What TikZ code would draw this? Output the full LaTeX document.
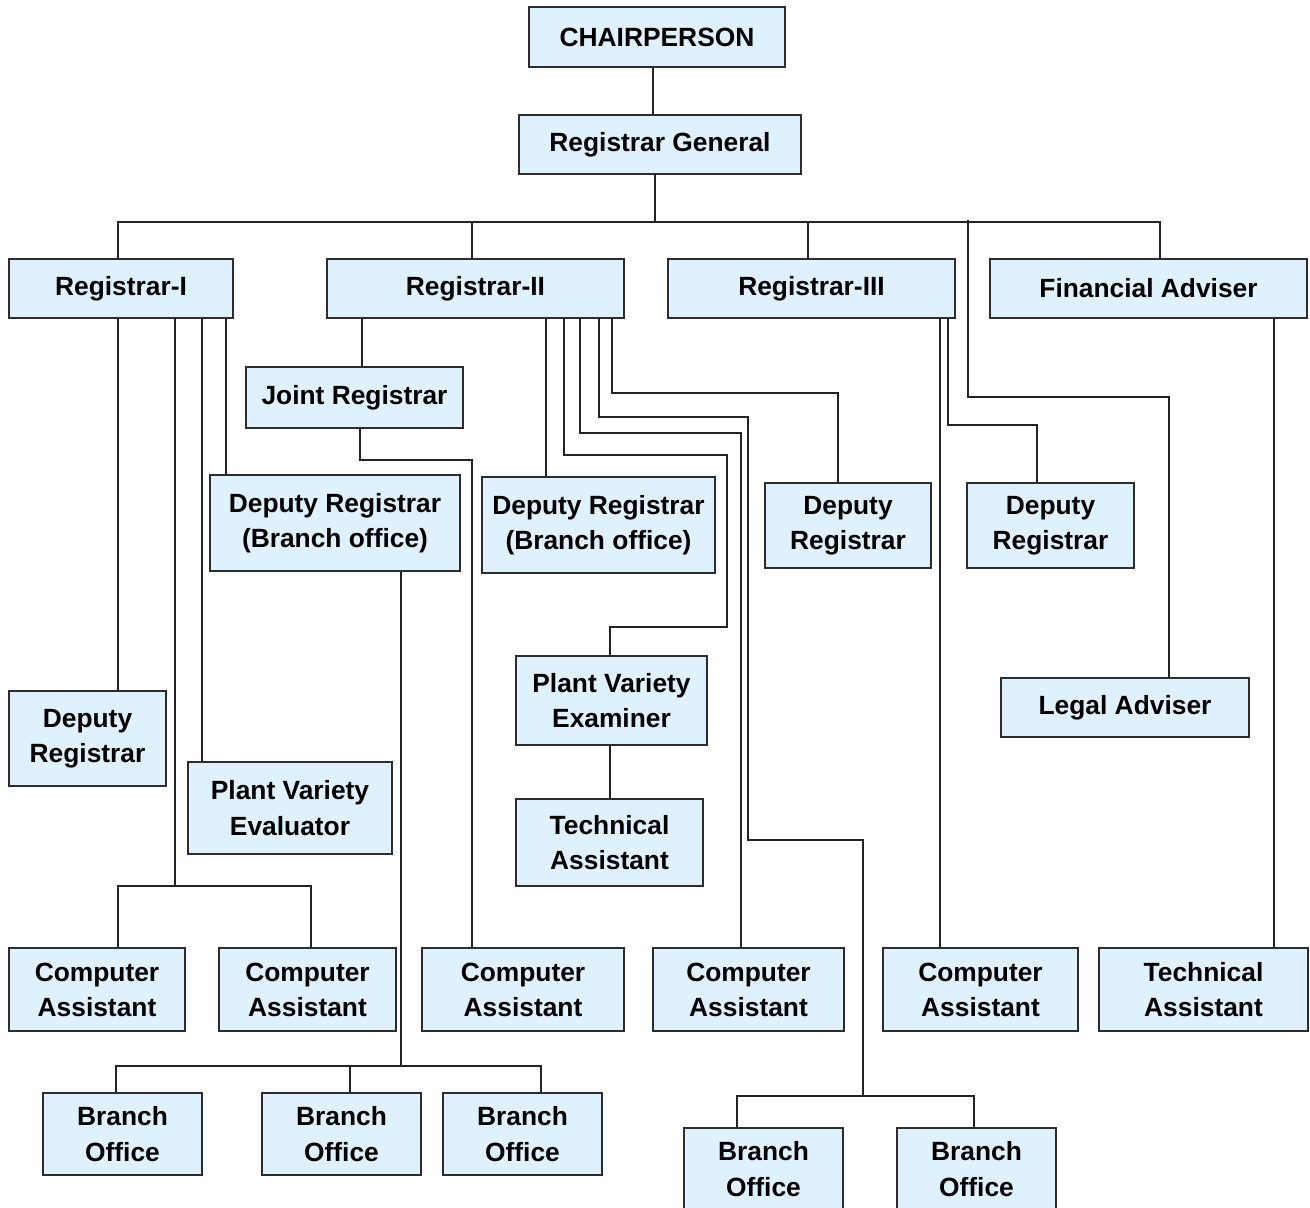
\documentclass[tikz,border=0pt]{standalone}
\usepackage{fontspec}
\setmainfont{Liberation Sans}
\usepackage{xcolor}
\usepackage{tikz}
\definecolor{boxfill}{RGB}{223,241,252}
\definecolor{boxline}{RGB}{45,45,45}
\definecolor{wire}{RGB}{35,35,35}
\tikzset{
    post/.style = {draw=boxline, fill=boxfill, line width=0.8pt, align=center, inner sep=0pt,
                   font=\fontsize{15}{20}\selectfont\bfseries},
    sz/.style 2 args = {minimum width=#1*0.02cm, minimum height=#2*0.02cm},
    link/.style = {draw=wire, line width=0.6pt}
}

\begin{document}
\begin{tikzpicture}[x=0.02cm, y=-0.02cm]
    \useasboundingbox (0,0) rectangle (1310,1207);

    % top of the chart
    \node [post, sz={256}{60}] (chair) at (657,37) {CHAIRPERSON};
    \node [post, sz={282}{59}] (rg) at (660,144.5) {Registrar General};

    % second level
    \node [post, sz={224}{59}] (r1) at (121,288.5) {Registrar-I};
    \node [post, sz={297}{59}] (r2) at (475.5,288.5) {Registrar-II};
    \node [post, sz={287}{59}] (r3) at (811.5,288.5) {Registrar-III};
    \node [post, sz={317}{59}] (fa) at (1148.5,288.5) {Financial Adviser};

    % middle posts
    \node [post, sz={217}{61}] (jr) at (354.5,397.5) {Joint Registrar};
    \node [post, sz={250}{96}] (dbo1) at (335,523) {Deputy Registrar\\(Branch office)};
    \node [post, sz={233}{96}] (dbo2) at (598.5,525) {Deputy Registrar\\(Branch office)};
    \node [post, sz={166}{85}] (dr3) at (848,525.5) {Deputy\\Registrar};
    \node [post, sz={167}{85}] (dr4) at (1050.5,525.5) {Deputy\\Registrar};
    \node [post, sz={157}{95}] (dr1) at (87.5,738.5) {Deputy\\Registrar};
    \node [post, sz={204}{92}] (pvev) at (290,808) {Plant Variety\\Evaluator};
    \node [post, sz={191}{89}] (pvex) at (611.5,700.5) {Plant Variety\\Examiner};
    \node [post, sz={187}{87}] (ta1) at (609.5,842.5) {Technical\\Assistant};
    \node [post, sz={248}{59}] (la) at (1125,707.5) {Legal Adviser};

    % assistants
    \node [post, sz={176}{83}] (ca1) at (97,989.5) {Computer\\Assistant};
    \node [post, sz={177}{83}] (ca2) at (307.5,989.5) {Computer\\Assistant};
    \node [post, sz={202}{83}] (ca3) at (523,989.5) {Computer\\Assistant};
    \node [post, sz={191}{83}] (ca4) at (748.5,989.5) {Computer\\Assistant};
    \node [post, sz={195}{83}] (ca5) at (980.5,989.5) {Computer\\Assistant};
    \node [post, sz={209}{83}] (ta2) at (1203.5,989.5) {Technical\\Assistant};

    % branch offices
    \node [post, sz={159}{82}] (bo1) at (122.5,1134) {Branch\\Office};
    \node [post, sz={159}{82}] (bo2) at (341.5,1134) {Branch\\Office};
    \node [post, sz={159}{82}] (bo3) at (522.5,1134) {Branch\\Office};
    \node [post, sz={159}{82}] (bo4) at (763.5,1169) {Branch\\Office};
    \node [post, sz={159}{82}] (bo5) at (976.5,1169) {Branch\\Office};

    % connectors from the top
    \draw [link] (653,0 |- chair.south) -- (653,0 |- rg.north);
    \draw [link] (655,0 |- rg.south) -- (655,222);
    \draw [link] (118,0 |- r1.north) |- (1160,222) -- (1160,0 |- fa.north);
    \draw [link] (472,222) -- (472,0 |- r2.north);
    \draw [link] (808,222) -- (808,0 |- r3.north);
    \draw [link] (968,220) -- (968,397) -| (1169,0 |- la.north);

    % Registrar-I
    \draw [link] (118,0 |- r1.south) -- (118,0 |- dr1.north);
    \draw [link] (202,0 |- r1.south) -- (202,0 |- pvev.north);
    \draw [link] (226,0 |- r1.south) -- (226,0 |- dbo1.north);
    \draw [link] (175,0 |- r1.south) -- (175,886);
    \draw [link] (118,0 |- ca1.north) |- (311,886) -- (311,0 |- ca2.north);

    % Registrar-II
    \draw [link] (362,0 |- r2.south) -- (362,0 |- jr.north);
    \draw [link] (546,0 |- r2.south) -- (546,0 |- dbo2.north);
    \draw [link] (564,0 |- r2.south) -- (564,455) -| (727,627) -| (610,0 |- pvex.north);
    \draw [link] (580,0 |- r2.south) -- (580,433) -| (741,0 |- ca4.north);
    \draw [link] (599,0 |- r2.south) -- (599,417) -| (748,840) -| (863,1096);
    \draw [link] (612,0 |- r2.south) -- (612,393) -| (838,0 |- dr3.north);
    \draw [link] (360,0 |- jr.south) -- (360,460) -| (472,0 |- ca3.north);
    \draw [link] (610,0 |- pvex.south) -- (610,0 |- ta1.north);
    \draw [link] (737,0 |- bo4.north) |- (974,1096) -- (974,0 |- bo5.north);

    % branch offices under Registrar-I
    \draw [link] (401,0 |- dbo1.south) -- (401,1066);
    \draw [link] (116,0 |- bo1.north) |- (541,1066) -- (541,0 |- bo3.north);
    \draw [link] (350,1066) -- (350,0 |- bo2.north);

    % Registrar-III and Financial Adviser
    \draw [link] (940,0 |- r3.south) -- (940,0 |- ca5.north);
    \draw [link] (948,0 |- r3.south) -- (948,425) -| (1037,0 |- dr4.north);
    \draw [link] (1274,0 |- fa.south) -- (1274,0 |- ta2.north);
\end{tikzpicture}
\end{document}
